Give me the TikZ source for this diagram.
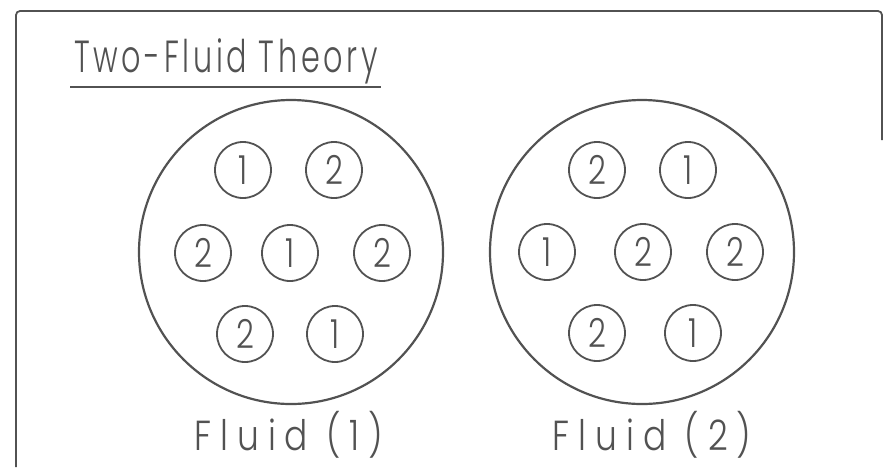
\documentclass[tikz,border=0pt]{standalone}
\usepackage{fontspec}
\newfontfamily\lettering{Poppins}[UprightFont={* Light},LetterSpace=12]
\newfontfamily\wideletter{Poppins}[UprightFont={* Light},LetterSpace=26]
\usetikzlibrary{positioning}
\definecolor{ink}{gray}{0.32}
\newcommand{\narrow}[2][0.78]{\scalebox{#1}[1]{#2}}
\tikzset{
  pen/.style={draw=ink,line width=1.8pt},
  vessel/.style={pen,circle,minimum size=304pt,inner sep=0pt,line width=2.2pt},
  ball/.style={pen,circle,minimum size=56pt,inner sep=0pt,text=ink,font=\lettering\fontsize{40}{40}\selectfont},
  lbl/.style={inner sep=0pt,text=ink,font=\lettering\fontsize{45}{45}\selectfont},
  fluidlbl/.style={lbl,anchor=base,font=\wideletter\fontsize{42}{42}\selectfont}
}

\begin{document}
\begin{tikzpicture}[x=1pt,y=-1pt]
  \useasboundingbox (0,0) rectangle (884,467);
  % frame
  \draw[pen,rounded corners=4pt] (882,140) -- (882,11) -- (16,11) -- (16,467);

  % title
  \node[lbl,anchor=base west] (title) at (74,72) {\narrow[0.672]{Two-Fluid Theory}};
  \draw[pen] ([shift={(-4,15)}]title.base west) -- ([shift={(3,15)}]title.base east);

  % the two fluids
  \node[vessel] (fluidA) at (291,252) {};
  \node[vessel] (fluidB) at (642,252) {};

  \foreach \nm/\x/\y/\d in {a1/243/170/1, a2/334/170/2, a3/203/253/2, a4/290/253/1,
      a5/382/253/2, a6/245/334/2, a7/335/334/1}
    \node[ball] (\nm) at (\x,\y) {\narrow{\d}};
  \foreach \nm/\x/\y/\d in {b1/597/170/2, b2/688/170/1, b3/547/252/1, b4/643/252/2,
      b5/735/252/2, b6/597/333/2, b7/693/333/1}
    \node[ball] (\nm) at (\x,\y) {\narrow{\d}};

  % labels
  \node[fluidlbl] (nameA) at (289,450) {\narrow[0.82]{Fluid (1)}};
  \node[fluidlbl] (nameB) at (652,450) {\narrow[0.82]{Fluid (2)}};
\end{tikzpicture}
\end{document}
